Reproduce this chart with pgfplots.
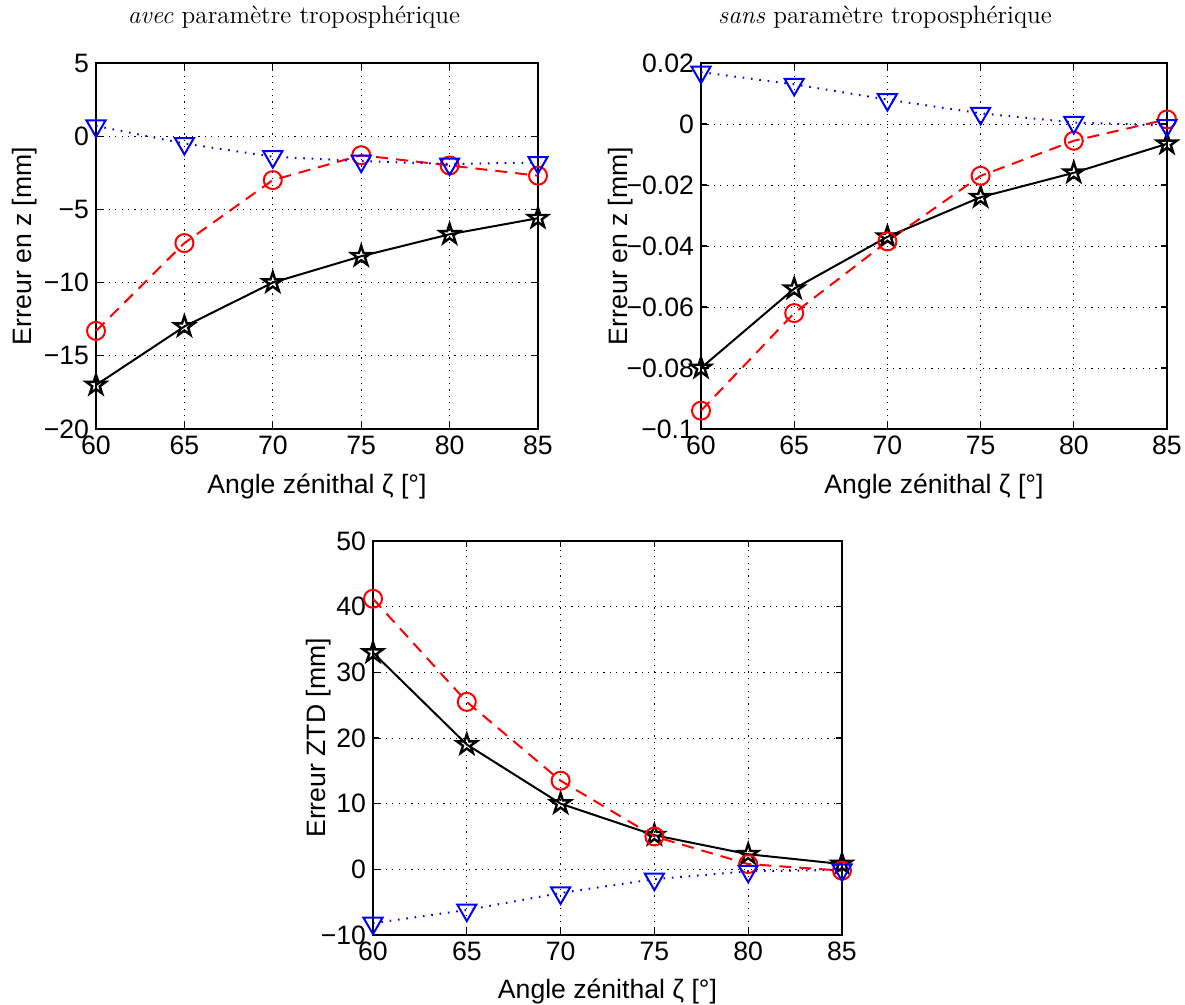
\documentclass[border=0pt]{standalone}
\usepackage{fontspec}
\usepackage{pgfplots}
\pgfplotsset{compat=1.18}
\newfontfamily\hv{Liberation Sans}
\newcommand\hvf{\hv\fontsize{13.3}{16}\selectfont}

\pgfdeclareplotmark{pentagram}{%
  \pgfpathmoveto{\pgfpointpolar{90}{\pgfplotmarksize}}%
  \pgfpathlineto{\pgfpointpolar{126}{0.382\pgfplotmarksize}}%
  \pgfpathlineto{\pgfpointpolar{162}{\pgfplotmarksize}}%
  \pgfpathlineto{\pgfpointpolar{198}{0.382\pgfplotmarksize}}%
  \pgfpathlineto{\pgfpointpolar{234}{\pgfplotmarksize}}%
  \pgfpathlineto{\pgfpointpolar{270}{0.382\pgfplotmarksize}}%
  \pgfpathlineto{\pgfpointpolar{306}{\pgfplotmarksize}}%
  \pgfpathlineto{\pgfpointpolar{342}{0.382\pgfplotmarksize}}%
  \pgfpathlineto{\pgfpointpolar{18}{\pgfplotmarksize}}%
  \pgfpathlineto{\pgfpointpolar{54}{0.382\pgfplotmarksize}}%
  \pgfpathclose
  \pgfusepathqstroke
}

\pgfplotsset{
  mystyle/.style={
    scale only axis, anchor=north west, clip=false,
    xmin=60, xmax=85, xtick={60,65,70,75,80,85},
    grid=major,
    major grid style={black, line width=0.4pt, dash pattern=on 0.6pt off 2.6pt},
    axis line style={line width=0.8pt},
    tick align=inside, major tick length=3pt,
    tick style={black, line width=0.6pt},
    /pgf/number format/assume math mode=true,
    tick label style={font=\hvf},
    label style={font=\hvf},
    xlabel={Angle zénithal ζ [°]},
  },
  blk/.style={black, solid, line width=1pt, mark=pentagram, mark size=5.2pt, mark options={solid, line width=1.2pt}},
  rd/.style={red, line width=1pt, dash pattern=on 6pt off 4pt, mark=o, mark size=4.5pt, mark options={solid}},
  bl/.style={blue, line width=1pt, dash pattern=on 0.8pt off 3.4pt, mark=triangle, mark size=5.5pt, mark options={solid, rotate=180}},
}

\begin{document}
\begin{tikzpicture}
\path[use as bounding box] (0,0) rectangle (592.5pt,-502.5pt);

\node[anchor=base, font=\fontsize{12.6}{15}\selectfont] at (147pt,-12pt) {\textit{avec} paramètre troposphérique};
\node[anchor=base, font=\fontsize{12.6}{15}\selectfont] at (442.5pt,-12pt) {\textit{sans} paramètre troposphérique};

% top-left
\begin{axis}[mystyle, at={(48pt,-31.5pt)}, width=221pt, height=183pt,
  ymin=-20, ymax=5, ytick={-20,-15,-10,-5,0,5},
  yticklabels={−20,−15,−10,−5,0,5},
  ylabel={Erreur en z [mm]},
  ylabel style={at={(axis description cs:-0.1448,0.5)}, anchor=base},
  xlabel style={at={(axis description cs:0.5,-0.175)}, anchor=base},
]
\addplot[blk] coordinates {(60,-17.0) (65,-13.0) (70,-10.0) (75,-8.2) (80,-6.7) (85,-5.6)};
\addplot[rd] coordinates {(60,-13.3) (65,-7.3) (70,-3.0) (75,-1.3) (80,-2.0) (85,-2.7)};
\addplot[bl] coordinates {(60,0.7) (65,-0.5) (70,-1.4) (75,-1.7) (80,-1.9) (85,-1.8)};
\end{axis}

% top-right
\begin{axis}[mystyle, at={(350.5pt,-31.5pt)}, width=233pt, height=183pt,
  ymin=-0.1, ymax=0.02, ytick={-0.1,-0.08,-0.06,-0.04,-0.02,0,0.02},
  yticklabels={−0.1,−0.08,−0.06,−0.04,−0.02,0,0.02},
  ylabel={Erreur en z [mm]},
  ylabel style={at={(axis description cs:-0.1588,0.5)}, anchor=base},
  xlabel style={at={(axis description cs:0.5,-0.175)}, anchor=base},
]
\addplot[blk] coordinates {(60,-0.080) (65,-0.054) (70,-0.037) (75,-0.024) (80,-0.016) (85,-0.0065)};
\addplot[rd] coordinates {(60,-0.094) (65,-0.062) (70,-0.0385) (75,-0.017) (80,-0.0055) (85,0.0015)};
\addplot[bl] coordinates {(60,0.017) (65,0.013) (70,0.008) (75,0.0035) (80,0.0005) (85,-0.0005)};
\end{axis}

% bottom
\begin{axis}[mystyle, at={(186.5pt,-270.5pt)}, width=234.5pt, height=197pt,
  ymin=-10, ymax=50, ytick={-10,0,10,20,30,40,50},
  yticklabels={−10,0,10,20,30,40,50},
  ylabel={Erreur ZTD [mm]},
  ylabel style={at={(axis description cs:-0.1023,0.5)}, anchor=base},
  xlabel style={at={(axis description cs:0.5,-0.162)}, anchor=base},
]
\addplot[blk] coordinates {(60,33) (65,19) (70,10) (75,5.2) (80,2.3) (85,0.8)};
\addplot[rd] coordinates {(60,41.2) (65,25.5) (70,13.5) (75,5.0) (80,0.8) (85,-0.2)};
\addplot[bl] coordinates {(60,-8.2) (65,-6.2) (70,-3.6) (75,-1.5) (80,-0.3) (85,-0.1)};
\end{axis}
\end{tikzpicture}
\end{document}
